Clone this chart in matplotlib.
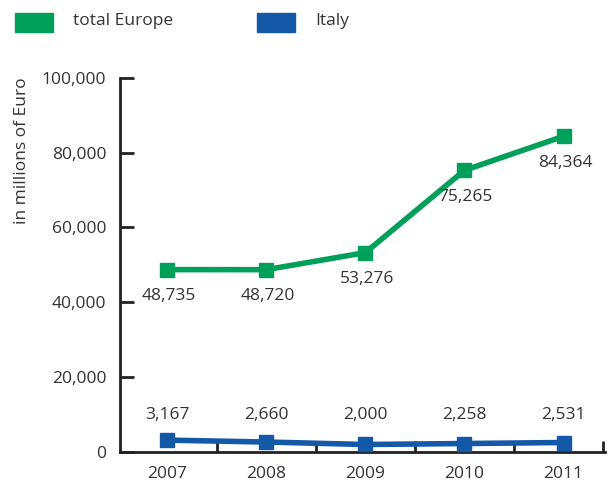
import numpy as np
import matplotlib.pyplot as plt
from matplotlib.patches import Rectangle

years = ['2007', '2008', '2009', '2010', '2011']
europe = [48735, 48720, 53276, 75265, 84364]
italy = [3167, 2660, 2000, 2258, 2531]

green = '#00a05a'
blue = '#1458a8'
txt = '#333333'
fs = 12.5

plt.rcParams['font.family'] = ['Open Sans', 'DejaVu Sans']

fig = plt.figure(figsize=(6.1, 4.86), dpi=100)
ax = fig.add_axes([0.197, 0.07, 0.795, 0.77])

x = np.arange(len(years))
ax.plot(x, europe, color=green, lw=4, marker='s', ms=10, zorder=3)
ax.plot(x, italy, color=blue, lw=4, marker='s', ms=10, zorder=3)

# value labels: Europe below the points, Italy on one row above the line
for xi, v in zip(x, europe):
    ax.annotate(f'{v:,}', (xi, v), xytext=(1, -19), textcoords='offset points',
                ha='center', va='center', fontsize=fs, color=txt)
for xi, v in zip(x, italy):
    ax.annotate(f'{v:,}', (xi, v), xytext=(xi, 10000), textcoords='data',
                ha='center', va='center', fontsize=fs, color=txt)

ax.set_xlim(-0.475, 4.42)
ax.set_ylim(0, 100000)
ax.set_yticks(np.arange(0, 100001, 20000))
ax.set_yticklabels([f'{t:,}' for t in range(0, 100001, 20000)])
ax.set_xticks(x)
ax.set_xticklabels(years)
ax.set_xticks(list(np.arange(0.5, 4, 1.0)) + [4.4], minor=True)
ax.tick_params(axis='x', which='major', length=0, pad=10, labelsize=fs, colors=txt)
ax.tick_params(axis='x', which='minor', length=8, width=2, direction='in', color='#222222')
ax.tick_params(axis='y', length=10, width=2, direction='in', pad=10, labelsize=fs,
               colors=txt)
ax.tick_params(axis='y', color='#222222')
for s in ['top', 'right']:
    ax.spines[s].set_visible(False)
for s in ['left', 'bottom']:
    ax.spines[s].set_linewidth(2)
    ax.spines[s].set_color('#222222')
ax.spines['left'].set_bounds(0, 100000)

fig.text(0.036, 0.69, 'in millions of Euro', rotation=90, ha='center', va='center',
         fontsize=fs, color=txt)

# legend
fig.patches.append(Rectangle((15 / 610, 1 - 32 / 486), 38 / 610, 19 / 486,
                             transform=fig.transFigure, color=green))
fig.text(73 / 610, 1 - 21 / 486, 'total Europe', fontsize=fs, color=txt, va='center')
fig.patches.append(Rectangle((257 / 610, 1 - 32 / 486), 38 / 610, 19 / 486,
                             transform=fig.transFigure, color=blue))
fig.text(315 / 610, 1 - 21 / 486, 'Italy', fontsize=fs, color=txt, va='center')

fig.savefig('out.png', dpi=100)
